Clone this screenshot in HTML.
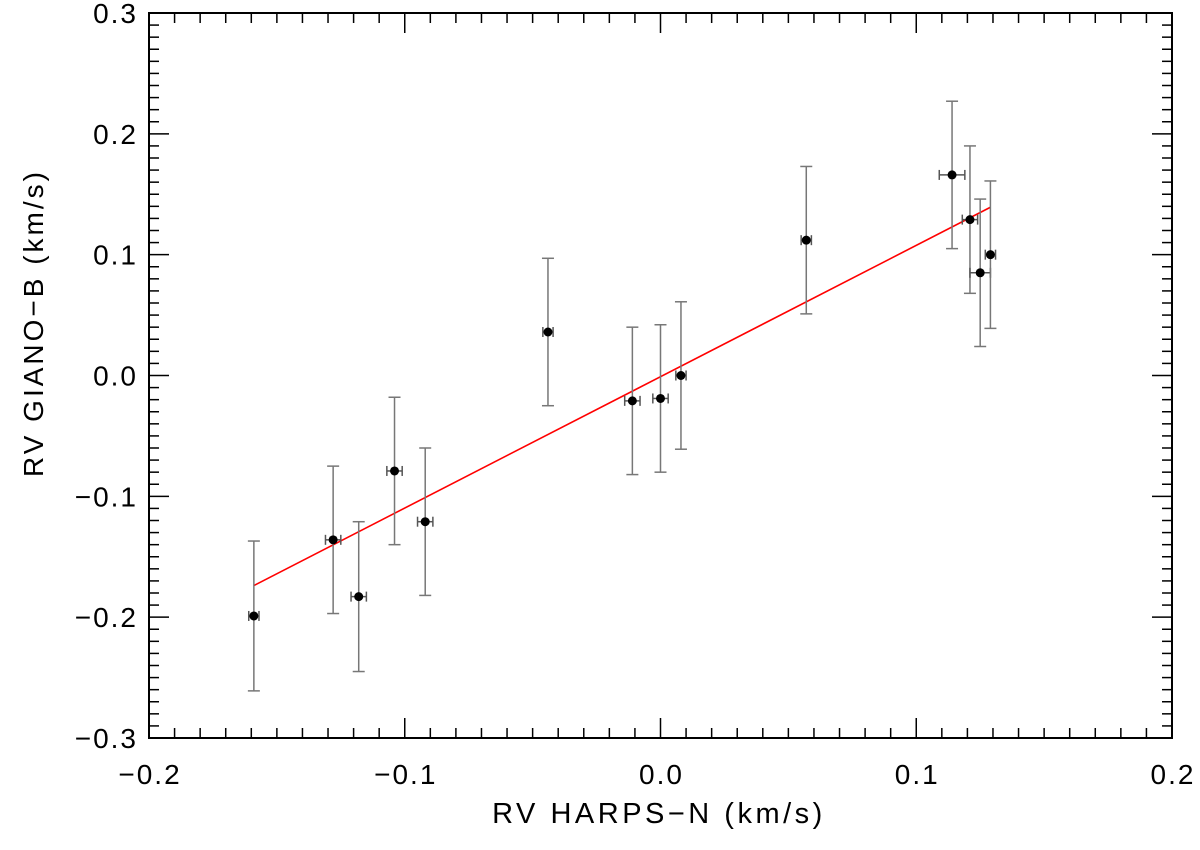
<!DOCTYPE html>
<html><head><meta charset="utf-8"><style>
body{margin:0;background:#fff}
svg text{font-family:"Liberation Sans","DejaVu Sans",sans-serif;fill:#000}
</style></head><body>
<svg id="c" width="1200" height="845"></svg>
<script>
const xVals=[-0.159,-0.128,-0.118,-0.104,-0.092,-0.044,-0.011,0.0,0.008,0.057,0.114,0.121,0.125,0.129];
const yVals=[-0.199,-0.136,-0.183,-0.079,-0.121,0.036,-0.021,-0.019,0.0,0.112,0.166,0.129,0.085,0.100];
const xErr=[0.002,0.003,0.003,0.003,0.003,0.002,0.003,0.003,0.002,0.002,0.005,0.003,0.004,0.002];
const yErr=[0.062,0.061,0.062,0.061,0.061,0.061,0.061,0.061,0.061,0.061,0.061,0.061,0.061,0.061];
const fitSlope=1.087, fitIntercept=-0.001, fitRange=[-0.159,0.129];
const xTicks=[-0.2,-0.1,0.0,0.1,0.2], xTickLabels=["\u22120.2","\u22120.1","0.0","0.1","0.2"];
const yTicks=[-0.3,-0.2,-0.1,0.0,0.1,0.2,0.3], yTickLabels=["\u22120.3","\u22120.2","\u22120.1","0.0","0.1","0.2","0.3"];
const L=149,R=1172,T=13,B=738;
const sx=v=>L+(v+0.2)/0.4*(R-L), sy=v=>B-(v+0.3)/0.6*(B-T);
const svg=document.getElementById('c');const NS='http://www.w3.org/2000/svg';
function mk(t,a,p){const e=document.createElementNS(NS,t);for(const k in a)e.setAttribute(k,a[k]);(p||svg).appendChild(e);return e;}
function ln(x1,y1,x2,y2,s,w,p){return mk('line',{x1,y1,x2,y2,stroke:s,'stroke-width':w},p);}
const ax=mk('g',{});


const fr=mk('rect',{x:L,y:T,width:R-L,height:B-T,fill:'none',stroke:'#000','stroke-width':2},ax);


for(let i=0;i<=40;i++){const v=-0.2+i*0.01,x=sx(v),len=i%10==0?20:10;
 ln(x,B,x,B-len,'#000',1.5,ax);ln(x,T,x,T+len,'#000',1.5,ax);}
for(let i=0;i<=60;i++){const v=-0.3+i*0.01,y=sy(v),len=i%10==0?20:10;
 ln(L,y,L+len,y,'#000',1.5,ax);ln(R,y,R-len,y,'#000',1.5,ax);}
xTicks.forEach((v,i)=>{const t=mk('text',{x:sx(v)+1,y:784,'text-anchor':'middle','font-size':28,'letter-spacing':2},ax);t.textContent=xTickLabels[i];
 
 });
yTicks.forEach((v,i)=>{const t=mk('text',{x:138,y:sy(v)+10,'text-anchor':'end','font-size':28,'letter-spacing':2},ax);t.textContent=yTickLabels[i];
 
 });
const xt=mk('text',{x:659,y:823,'text-anchor':'middle','font-size':29,'letter-spacing':3.5});xt.textContent='RV HARPS\u2212N (km/s)';


const yt=mk('text',{x:0,y:0,'text-anchor':'middle','font-size':28,'letter-spacing':3,transform:'translate(43,323) rotate(-90)'});yt.textContent='RV GIANO\u2212B (km/s)';


const fit=ln(sx(fitRange[0]),sy(fitSlope*fitRange[0]+fitIntercept),sx(fitRange[1]),sy(fitSlope*fitRange[1]+fitIntercept),'#f00',1.6);


xVals.forEach((xv,i)=>{const g=mk('g',{});
 
 
 const x=sx(xv),y=sy(yVals[i]),y1=sy(yVals[i]+yErr[i]),y2=sy(yVals[i]-yErr[i]),x1=sx(xv-xErr[i]),x2=sx(xv+xErr[i]);
 ln(x,y1,x,y2,'#777',1.5,g);ln(x-6,y1,x+6,y1,'#777',1.5,g);ln(x-6,y2,x+6,y2,'#777',1.5,g);
 ln(x1,y,x2,y,'#555',1.5,g);ln(x1,y-5,x1,y+5,'#555',1.5,g);ln(x2,y-5,x2,y+5,'#555',1.5,g);
 mk('circle',{cx:x,cy:y,r:4.5,fill:'#000'},g);});
</script></body></html>
